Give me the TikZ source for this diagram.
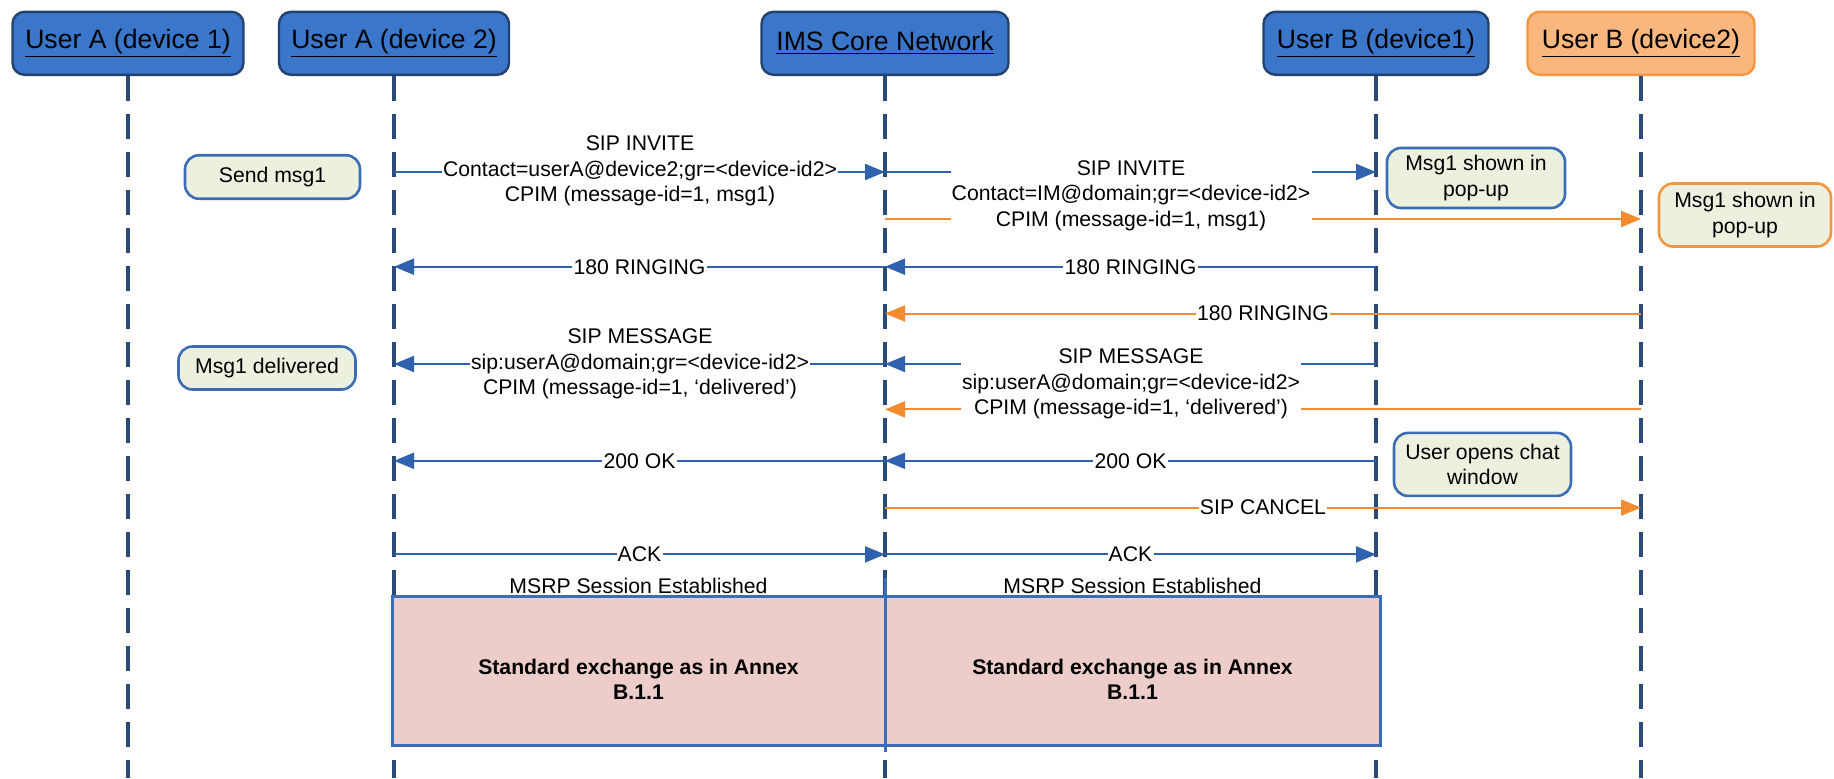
\documentclass[tikz,border=0pt]{standalone}
\usepackage{fontspec}
\setmainfont{Liberation Sans}
\usetikzlibrary{arrows.meta,positioning,calc}
\definecolor{hdrblue}{HTML}{3A76C9}
\definecolor{hdredge}{HTML}{22416F}
\definecolor{hdrorange}{HTML}{F9B77E}
\definecolor{orangeedge}{HTML}{F2973F}
\definecolor{lifeline}{HTML}{2B4A78}
\definecolor{arrblue}{HTML}{2F62AE}
\definecolor{arrorange}{HTML}{F28C2E}
\definecolor{notefill}{HTML}{EBF1DE}
\definecolor{noteblue}{HTML}{3A6DB5}
\definecolor{exfill}{HTML}{EDCDCA}

\begin{document}
\begin{tikzpicture}[x=0.5pt, y=-0.5pt,
  hdr/.style={rectangle, rounded corners=6pt, draw=hdredge, line width=1.2pt, fill=#1, minimum height=31.5pt, font=\fontsize{13.3}{16}\selectfont},
  life/.style={lifeline, line width=1.8pt, dash pattern=on 12.5pt off 6.5pt},
  note/.style={rectangle, rounded corners=7pt, draw=#1, line width=1.3pt, fill=notefill, align=center, font=\fontsize{10.6}{12.75}\selectfont},
  lbl/.style={fill=white, text=black, inner sep=0.6pt, align=center, font=\fontsize{10.6}{12.75}\selectfont},
  arrB/.style={-{Triangle[length=10pt,width=8pt]}, line width=1pt, arrblue},
  arrO/.style={-{Triangle[length=10pt,width=8pt]}, line width=1pt, arrorange},
  exbox/.style={rectangle, draw=noteblue, line width=1.5pt, fill=exfill, minimum height=74.25pt, align=center, font=\fontsize{10.6}{12.75}\selectfont\bfseries}
]
  \useasboundingbox (0,0) rectangle (1834,778);

  % lanes
  \node[hdr=hdrblue, minimum width=115.5pt] (ua1) at (128,43.3) {\underline{User A (device 1)}};
  \node[hdr=hdrblue, minimum width=115pt] (ua2) at (394,43.3) {\underline{User A (device 2)}};
  \node[hdr=hdrblue, minimum width=123.5pt] (ims) at (885,43.3) {\underline{IMS Core Network}};
  \node[hdr=hdrblue, minimum width=112.5pt] (ub1) at (1376,43.3) {\underline{User B (device1)}};
  \node[hdr=hdrorange, draw=orangeedge, minimum width=113.5pt] (ub2) at (1641,43.3) {\underline{User B (device2)}};

  \coordinate (bot) at (0,778);
  \foreach \n in {ua1,ua2,ims,ub1,ub2}
    \draw[life] (\n.south) -- (\n.south |- bot);

  % message rows
  \coordinate (inv) at (0,172);
  \coordinate (invo) at (0,219);
  \coordinate (ring) at (0,266.7);
  \coordinate (ringo) at (0,313.5);
  \coordinate (msg) at (0,364);
  \coordinate (msgo) at (0,409.4);
  \coordinate (ok) at (0,460.8);
  \coordinate (cancel) at (0,507.6);
  \coordinate (ack) at (0,554.4);

  % SIP INVITE
  \draw[arrB] (ua2 |- inv) -- (ims |- inv);
  \node[lbl] (inv1) at (640,171) {SIP INVITE\\Contact=userA@device2;gr=<device-id2>\\CPIM (message-id=1, msg1)};
  \draw[arrB] (ims |- inv) -- (ub1 |- inv);
  \draw[arrO] (ims |- invo) -- (ub2 |- invo);
  \node[lbl] (inv2) at (1131,195.5) {SIP INVITE\\Contact=IM@domain;gr=<device-id2>\\CPIM (message-id=1, msg1)};

  % 180 RINGING
  \draw[arrB] (ims |- ring) -- (ua2 |- ring) node[midway, lbl] (rg1) {180 RINGING};
  \draw[arrB] (ub1 |- ring) -- (ims |- ring) node[midway, lbl] (rg2) {180 RINGING};
  \draw[arrO] (ub2 |- ringo) -- (ims |- ringo) node[midway, lbl] (rg3) {180 RINGING};

  % SIP MESSAGE
  \draw[arrB] (ims |- msg) -- (ua2 |- msg);
  \node[lbl] (msg1) at (640,364) {SIP MESSAGE\\sip:userA@domain;gr=<device-id2>\\CPIM (message-id=1, `delivered')};
  \draw[arrB] (ub1 |- msg) -- (ims |- msg);
  \draw[arrO] (ub2 |- msgo) -- (ims |- msgo);
  \node[lbl] (msg2) at (1131,384) {SIP MESSAGE\\sip:userA@domain;gr=<device-id2>\\CPIM (message-id=1, `delivered')};

  % 200 OK, CANCEL, ACK
  \draw[arrB] (ims |- ok) -- (ua2 |- ok) node[midway, lbl] (ok1) {200 OK};
  \draw[arrB] (ub1 |- ok) -- (ims |- ok) node[midway, lbl] (ok2) {200 OK};
  \draw[arrO] (ims |- cancel) -- (ub2 |- cancel) node[midway, lbl] (cn) {SIP CANCEL};
  \draw[arrB] (ua2 |- ack) -- (ims |- ack) node[midway, lbl] (ack1) {ACK};
  \draw[arrB] (ims |- ack) -- (ub1 |- ack) node[midway, lbl] (ack2) {ACK};

  % notes
  \node[note=noteblue, minimum width=87.5pt, minimum height=21.75pt] (sendn) at (272.5,177) {Send msg1};
  \node[note=noteblue, minimum width=88.5pt, minimum height=21.5pt] (deln) at (267,368) {Msg1 delivered};
  \node[note=noteblue, minimum width=89pt, minimum height=30pt] (popb) at (1476,178) {Msg1 shown in\\pop-up};
  \node[note=orangeedge, minimum width=86pt, minimum height=31.5pt] (popo) at (1745,215) {Msg1 shown in\\pop-up};
  \node[note=noteblue, minimum width=88.5pt, minimum height=31.5pt] (chat) at (1482.5,464.4) {User opens chat\\window};

  % MSRP session
  \node[exbox, minimum width=246.5pt] (ex1) at (638.5,670.75) {\rule{0pt}{16pt}Standard exchange as in Annex\\B.1.1};
  \node[exbox, minimum width=247.5pt] (ex2) at (1132.5,670.75) {\rule{0pt}{16pt}Standard exchange as in Annex\\B.1.1};
  \node[anchor=south, inner sep=0.5pt, font=\fontsize{10.6}{12.75}\selectfont] (ms1) at (ex1.north) {MSRP Session Established};
  \node[anchor=south, inner sep=0.5pt, font=\fontsize{10.6}{12.75}\selectfont] (ms2) at (ex2.north) {MSRP Session Established};
  \coordinate (dvtop) at (885,578);
  \coordinate (dvbot) at (885,752);
  \draw[noteblue, line width=1.5pt] (dvtop) -- (dvbot);
\end{tikzpicture}
\end{document}
